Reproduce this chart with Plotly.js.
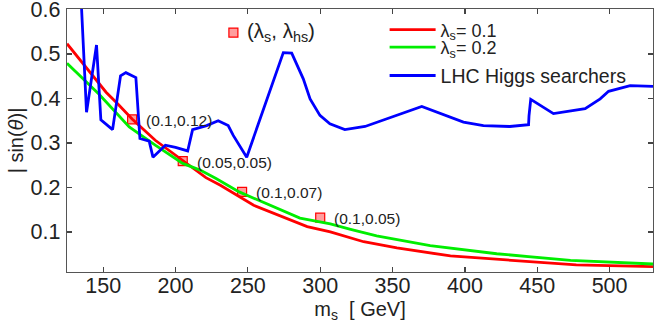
<!DOCTYPE html>
<html>
<head>
<meta charset="utf-8">
<script src="https://cdn.plot.ly/plotly-3.0.1.min.js"></script>
<style>
  html, body { margin: 0; padding: 0; background: #fff; }
  #graph { width: 655px; height: 327px; }
</style>
</head>
<body>
<div id="graph"></div>
<script>
// courbe lambda_s = 0.1 (rouge)
var msRouge = [125, 152, 160, 170, 186, 203, 221, 231, 254, 291, 307, 330, 353, 390, 422, 477, 530];
var sinRouge = [0.523, 0.414, 0.388, 0.354, 0.306, 0.265, 0.222, 0.205, 0.160, 0.112, 0.100, 0.078, 0.064, 0.046, 0.039, 0.026, 0.022];

// courbe lambda_s = 0.2 (verte)
var msVert = [125, 147, 168, 186, 205, 217, 228, 244, 286, 307, 321, 339, 376, 422, 473, 530];
var sinVert = [0.479, 0.410, 0.336, 0.295, 0.254, 0.239, 0.220, 0.190, 0.131, 0.118, 0.106, 0.091, 0.069, 0.051, 0.036, 0.028];

// limite LHC (bleue)
var msLHC = [134.5, 138.5, 145.4, 148.4, 156.5, 162, 165.7, 172.6, 175.4, 181.8, 184.4, 193, 200, 208.4, 211.8, 221.5, 229.5, 236.4, 239.9, 249.2,
             274.5, 280.3, 288.3, 293, 299.8, 306.7, 317, 331, 370.2, 399, 412.8, 431, 444, 444.3, 445.5, 461.2, 483.1, 493.5, 499.3, 514.2, 530];
var sinLHC = [0.64, 0.369, 0.52, 0.352, 0.33, 0.451, 0.458, 0.447, 0.31, 0.304, 0.268, 0.295, 0.29, 0.282, 0.33, 0.339, 0.35, 0.339, 0.317, 0.268,
              0.503, 0.502, 0.444, 0.399, 0.362, 0.343, 0.33, 0.337, 0.382, 0.347, 0.339, 0.337, 0.341, 0.361, 0.398, 0.366, 0.377, 0.399, 0.416, 0.429, 0.427];

// points de référence (lambda_s, lambda_hs)
var msPoints = [170, 205, 246, 300];
var sinPoints = [0.353, 0.259, 0.19, 0.132];
var etiquettes = ['(0.1,0.12)', '(0.05,0.05)', '(0.1,0.07)', '(0.1,0.05)'];

// marqueur de la légende "(λs, λhs)"
var msCle = [240];
var sinCle = [0.548];
var texteCle = '(λ<sub>s</sub>, λ<sub>hs</sub>)';

var police = 'Liberation Sans, Arial, Helvetica, sans-serif';
var styleCarre = {
	symbol: 'square',
	size: 9,
	color: 'rgba(255,0,0,0.38)',
	line: {color: '#ff0000', width: 1.2}
};

var data = [
	{x: msPoints, y: sinPoints, mode: 'markers', marker: styleCarre, showlegend: false, hoverinfo: 'skip'},
	{x: msCle, y: sinCle, mode: 'markers', marker: styleCarre, showlegend: false, hoverinfo: 'skip'},
	{x: msRouge, y: sinRouge, mode: 'lines', name: 'λ<sub>s</sub>= 0.1',
	 line: {color: '#ff0000', width: 2.8}, legend: 'legend'},
	{x: msVert, y: sinVert, mode: 'lines', name: 'λ<sub>s</sub>= 0.2',
	 line: {color: '#00ee00', width: 2.8}, legend: 'legend2'},
	{x: msLHC, y: sinLHC, mode: 'lines', name: 'LHC Higgs searchers',
	 line: {color: '#0000ff', width: 2.8}, legend: 'legend3'}
];

// étiquettes à droite des carrés
var annotations = etiquettes.map(function(t, i) {
	return {
		x: msPoints[i], y: sinPoints[i], text: t,
		xanchor: 'left', yanchor: 'middle', xshift: 12, yshift: -1,
		showarrow: false, font: {family: police, size: 15.5, color: '#222'}
	};
});
annotations.push({
	x: msCle[0], y: sinCle[0], text: texteCle,
	xanchor: 'left', yanchor: 'middle', xshift: 12, yshift: 1,
	showarrow: false, font: {family: police, size: 20.5, color: '#222'}
});

var axe = {
	showgrid: false, zeroline: false,
	showline: true, linecolor: '#555', linewidth: 1.3,
	mirror: 'ticks', ticks: 'inside', ticklen: 5, tickwidth: 1.2, tickcolor: '#444',
	ticklabeloverflow: 'allow',
	tickfont: {family: police, size: 21.5, color: '#222'}
};

// une légende par ligne pour reproduire l'espacement
function legende(y, taille) {
	return {
		x: 0.542, y: y, xanchor: 'left', yanchor: 'top',
		bgcolor: 'rgba(0,0,0,0)', borderwidth: 0,
		font: {family: police, size: taille, color: '#222'},
		itemwidth: 46
	};
}

var layout = {
	width: 655, height: 327,
	margin: {l: 67, r: 2, t: 9, b: 55},
	paper_bgcolor: '#fff', plot_bgcolor: '#fff',
	font: {family: police, color: '#222'},
	showlegend: true,
	legend: legende(0.991, 18),
	legend2: legende(0.924, 18),
	legend3: legende(0.820, 19.5),
	xaxis: Object.assign({}, axe, {
		range: [125, 530], tickvals: [150, 200, 250, 300, 350, 400, 450, 500],
		ticklabelstandoff: -6,
		title: {text: 'm<sub>s</sub>  [ GeV]', font: {family: police, size: 20, color: '#222'}, standoff: 0}
	}),
	yaxis: Object.assign({}, axe, {
		range: [0.01, 0.601], tickvals: [0.1, 0.2, 0.3, 0.4, 0.5, 0.6],
		ticklabelstandoff: 1,
		title: {text: '| sin(<i>θ</i>)|', font: {family: police, size: 20, color: '#222'}, standoff: 1}
	}),
	annotations: annotations
};

Plotly.newPlot('graph', data, layout, {displayModeBar: false, staticPlot: true});
</script>
</body>
</html>
